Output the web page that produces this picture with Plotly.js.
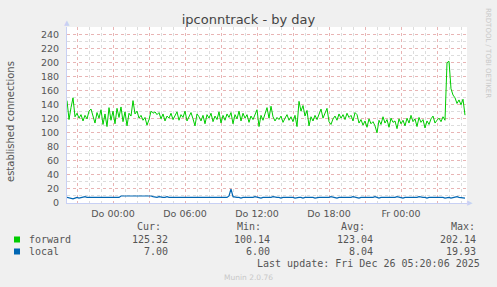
<!DOCTYPE html>
<html>
<head>
<meta charset="utf-8">
<script src="https://cdn.plot.ly/plotly-3.0.1.min.js"></script>
<style>html,body{margin:0;padding:0;background:#F0F0F0;}#chart{width:497px;height:287px;}</style>
</head>
<body>
<div id="chart"></div>
<script>
// ---- data (10-minute samples, Wed 24 Dec 2025 20:10 -> Fri 26 Dec 2025 05:20) ----
const startTime = '2025-12-24T20:10:00Z';
const stepMinutes = 10;

const forward = [
146,119,136,150,123,128,121,126,117,125,120,131,134,124,114,129,121,133,112,127,
109,136,118,131,113,135,122,137,116,130,110,128,124,146,127,131,121,125,118,122,
111,119,131,128,130,126,129,120,127,117,124,121,128,119,125,130,118,126,122,131,
117,124,129,120,110,127,123,117,125,113,126,121,128,116,124,119,130,114,125,118,
127,122,129,113,126,120,131,117,128,121,126,115,124,119,127,133,109,125,118,126,
136,121,138,123,117,122,119,124,115,121,126,118,123,116,125,109,145,131,139,124,
132,110,123,117,125,119,128,134,121,129,135,116,112,120,124,118,127,121,126,119,
128,122,125,117,129,126,114,119,111,117,108,120,113,116,110,100.14,118,112,123,114,
119,108,121,115,117,106,120,113,118,110,121,114,125,116,120,109,122,115,119,107,
117,112,120,124,114,118,121,116,123,118,200,202.14,163,154,150,142,147,140,148,125.32
];

const local = [
8,7,7,6,7,8,7,8,8,9,8,8,9,8,8,8,9,8,8,9,
8,8,9,8,8,9,8,10,10,11,11,10,11,11,11,10,11,11,11,11,
10,11,10,9,8,8,9,8,8,8,9,8,8,9,8,8,9,8,8,8,
9,8,8,9,8,8,9,8,8,9,8,8,8,9,8,8,9,8,8,9,
8,10,19.93,9,8,8,8,7,8,8,7,8,8,8,9,8,8,7,8,8,
8,7,8,9,8,8,8,7,8,8,8,8,9,8,7,8,8,8,7,8,
8,9,8,8,7,8,8,8,8,7,8,8,9,8,8,7,8,8,8,8,
7,8,8,9,8,8,7,8,8,8,7,8,8,8,9,8,7,8,8,8,
8,7,8,8,8,9,8,8,7,8,8,8,8,7,8,8,9,8,8,8,
7,8,8,8,8,9,9,8,8,7,8,8,7,8,8,9,8,8,7,7
];

const seriesNames = ['forward', 'local'];
const seriesColors = ['#00CC00', '#0066B3'];
const statHeaders = ['Cur:', 'Min:', 'Avg:', 'Max:'];
const forwardStats = ['125.32', '100.14', '123.04', '202.14'];
const localStats = ['7.00', '6.00', '8.04', '19.93'];

const xTickVals = ['2025-12-24 21:00','2025-12-25 00:00','2025-12-25 03:00','2025-12-25 06:00',
  '2025-12-25 09:00','2025-12-25 12:00','2025-12-25 15:00','2025-12-25 18:00',
  '2025-12-25 21:00','2025-12-26 00:00','2025-12-26 03:00'];
const xTickText = ['','Do 00:00','','Do 06:00','','Do 12:00','','Do 18:00','','Fr 00:00',''];

const titleText = 'ipconntrack - by day';
const yTitle = 'established connections';
const lastUpdate = 'Last update: Fri Dec 26 05:20:06 2025';

// ---- build times ----
const t0 = Date.parse(startTime);
const times = forward.map((_, i) => new Date(t0 + i * stepMinutes * 60000).toISOString().slice(0, 19).replace('T', ' '));

// ---- layout helpers (pixel -> paper) ----
const L = 67, R = 467, T = 27, B = 203;
const xp = px => (px - L) / (R - L);
const yp = py => (B - py) / (B - T);

const mono = 'DejaVu Sans Mono, monospace';
const sans = 'DejaVu Sans, sans-serif';
const txtCol = '#555555';

const traces = [
  {x: times, y: forward, type: 'scatter', mode: 'lines', name: seriesNames[0],
   line: {color: seriesColors[0], width: 1}, hoverinfo: 'skip'},
  {x: times, y: local, type: 'scatter', mode: 'lines', name: seriesNames[1],
   line: {color: seriesColors[1], width: 1.2}, hoverinfo: 'skip'}
];

const ann = [];
function txt(text, px, py, anchor, size, color, font, angle) {
  ann.push({text: text, xref: 'paper', yref: 'paper', x: xp(px), y: yp(py),
    xanchor: anchor, yanchor: 'middle', showarrow: false,
    textangle: angle || 0,
    font: {family: font || mono, size: size || 10, color: color || txtCol}});
}
// stats header
const colRight = [163, 263, 367, 477];
const valRight = [170, 272, 375, 478];
statHeaders.forEach((h, i) => txt(h, colRight[i], 227, 'right'));
txt(seriesNames[0], 27, 239.5, 'left');
txt(seriesNames[1], 27, 251.5, 'left');
forwardStats.forEach((v, i) => txt(v, valRight[i], 239.5, 'right'));
localStats.forEach((v, i) => txt(v, valRight[i], 251.5, 'right'));
txt(lastUpdate, 482, 263.5, 'right');
txt('Munin 2.0.76', 248, 277, 'center', 7.5, '#c8c8c8', sans);
txt('RRDTOOL / TOBI OETIKER', 488, 53, 'center', 7, '#c8c8c8', sans, 90);
txt(yTitle, 10, 122, 'center', 10, txtCol, sans, -90);
// axis arrows
txt('▲', 67, 23, 'center', 7, '#c8d0f4', sans);
txt('▶', 470, 203, 'center', 7, '#c8d0f4', sans);

const shapes = [
  {type: 'rect', xref: 'paper', yref: 'paper', x0: xp(14), x1: xp(20), y0: yp(242.5), y1: yp(236.5),
   fillcolor: seriesColors[0], line: {width: 0}},
  {type: 'rect', xref: 'paper', yref: 'paper', x0: xp(14), x1: xp(20), y0: yp(254.5), y1: yp(248.5),
   fillcolor: seriesColors[1], line: {width: 0}}
];

const layout = {
  width: 497, height: 287,
  margin: {l: L, r: 497 - R, t: T, b: 287 - B, pad: 0},
  paper_bgcolor: '#F0F0F0', plot_bgcolor: '#FFFFFF',
  showlegend: false,
  title: {text: titleText, x: 0.5, xref: 'container', xanchor: 'center',
    y: 1 - 19 / 287, yref: 'container', yanchor: 'middle',
    font: {family: sans, size: 13, color: '#444444'}},
  xaxis: {
    type: 'date', range: ['2025-12-24 20:10', '2025-12-26 05:30'],
    tickmode: 'array', tickvals: xTickVals, ticktext: xTickText,
    showgrid: true, gridcolor: '#e8b4b4', griddash: 'dot', gridwidth: 1,
    minor: {dtick: 3600000, tick0: '2025-12-24 00:00', showgrid: true, gridcolor: '#dcdcdc', griddash: 'dot', gridwidth: 1, ticks: ''},
    showline: true, linecolor: '#c8d0f4', linewidth: 1,
    ticks: '', zeroline: false, fixedrange: true,
    tickfont: {family: sans, size: 9.5, color: txtCol}, ticklabelstandoff: 2
  },
  yaxis: {
    range: [0, 251], tickmode: 'linear', tick0: 0, dtick: 20,
    showgrid: true, gridcolor: '#e8b4b4', griddash: 'dot', gridwidth: 1,
    minor: {dtick: 10, tick0: 0, showgrid: true, gridcolor: '#dcdcdc', griddash: 'dot', gridwidth: 1, ticks: ''},
    showline: true, linecolor: '#c8d0f4', linewidth: 1,
    ticks: '', zeroline: false, fixedrange: true,
    tickfont: {family: sans, size: 9.5, color: txtCol}, ticklabelstandoff: 5
  },
  annotations: ann,
  shapes: shapes
};

Plotly.newPlot('chart', traces, layout, {staticPlot: true, displayModeBar: false});
</script>
</body>
</html>
